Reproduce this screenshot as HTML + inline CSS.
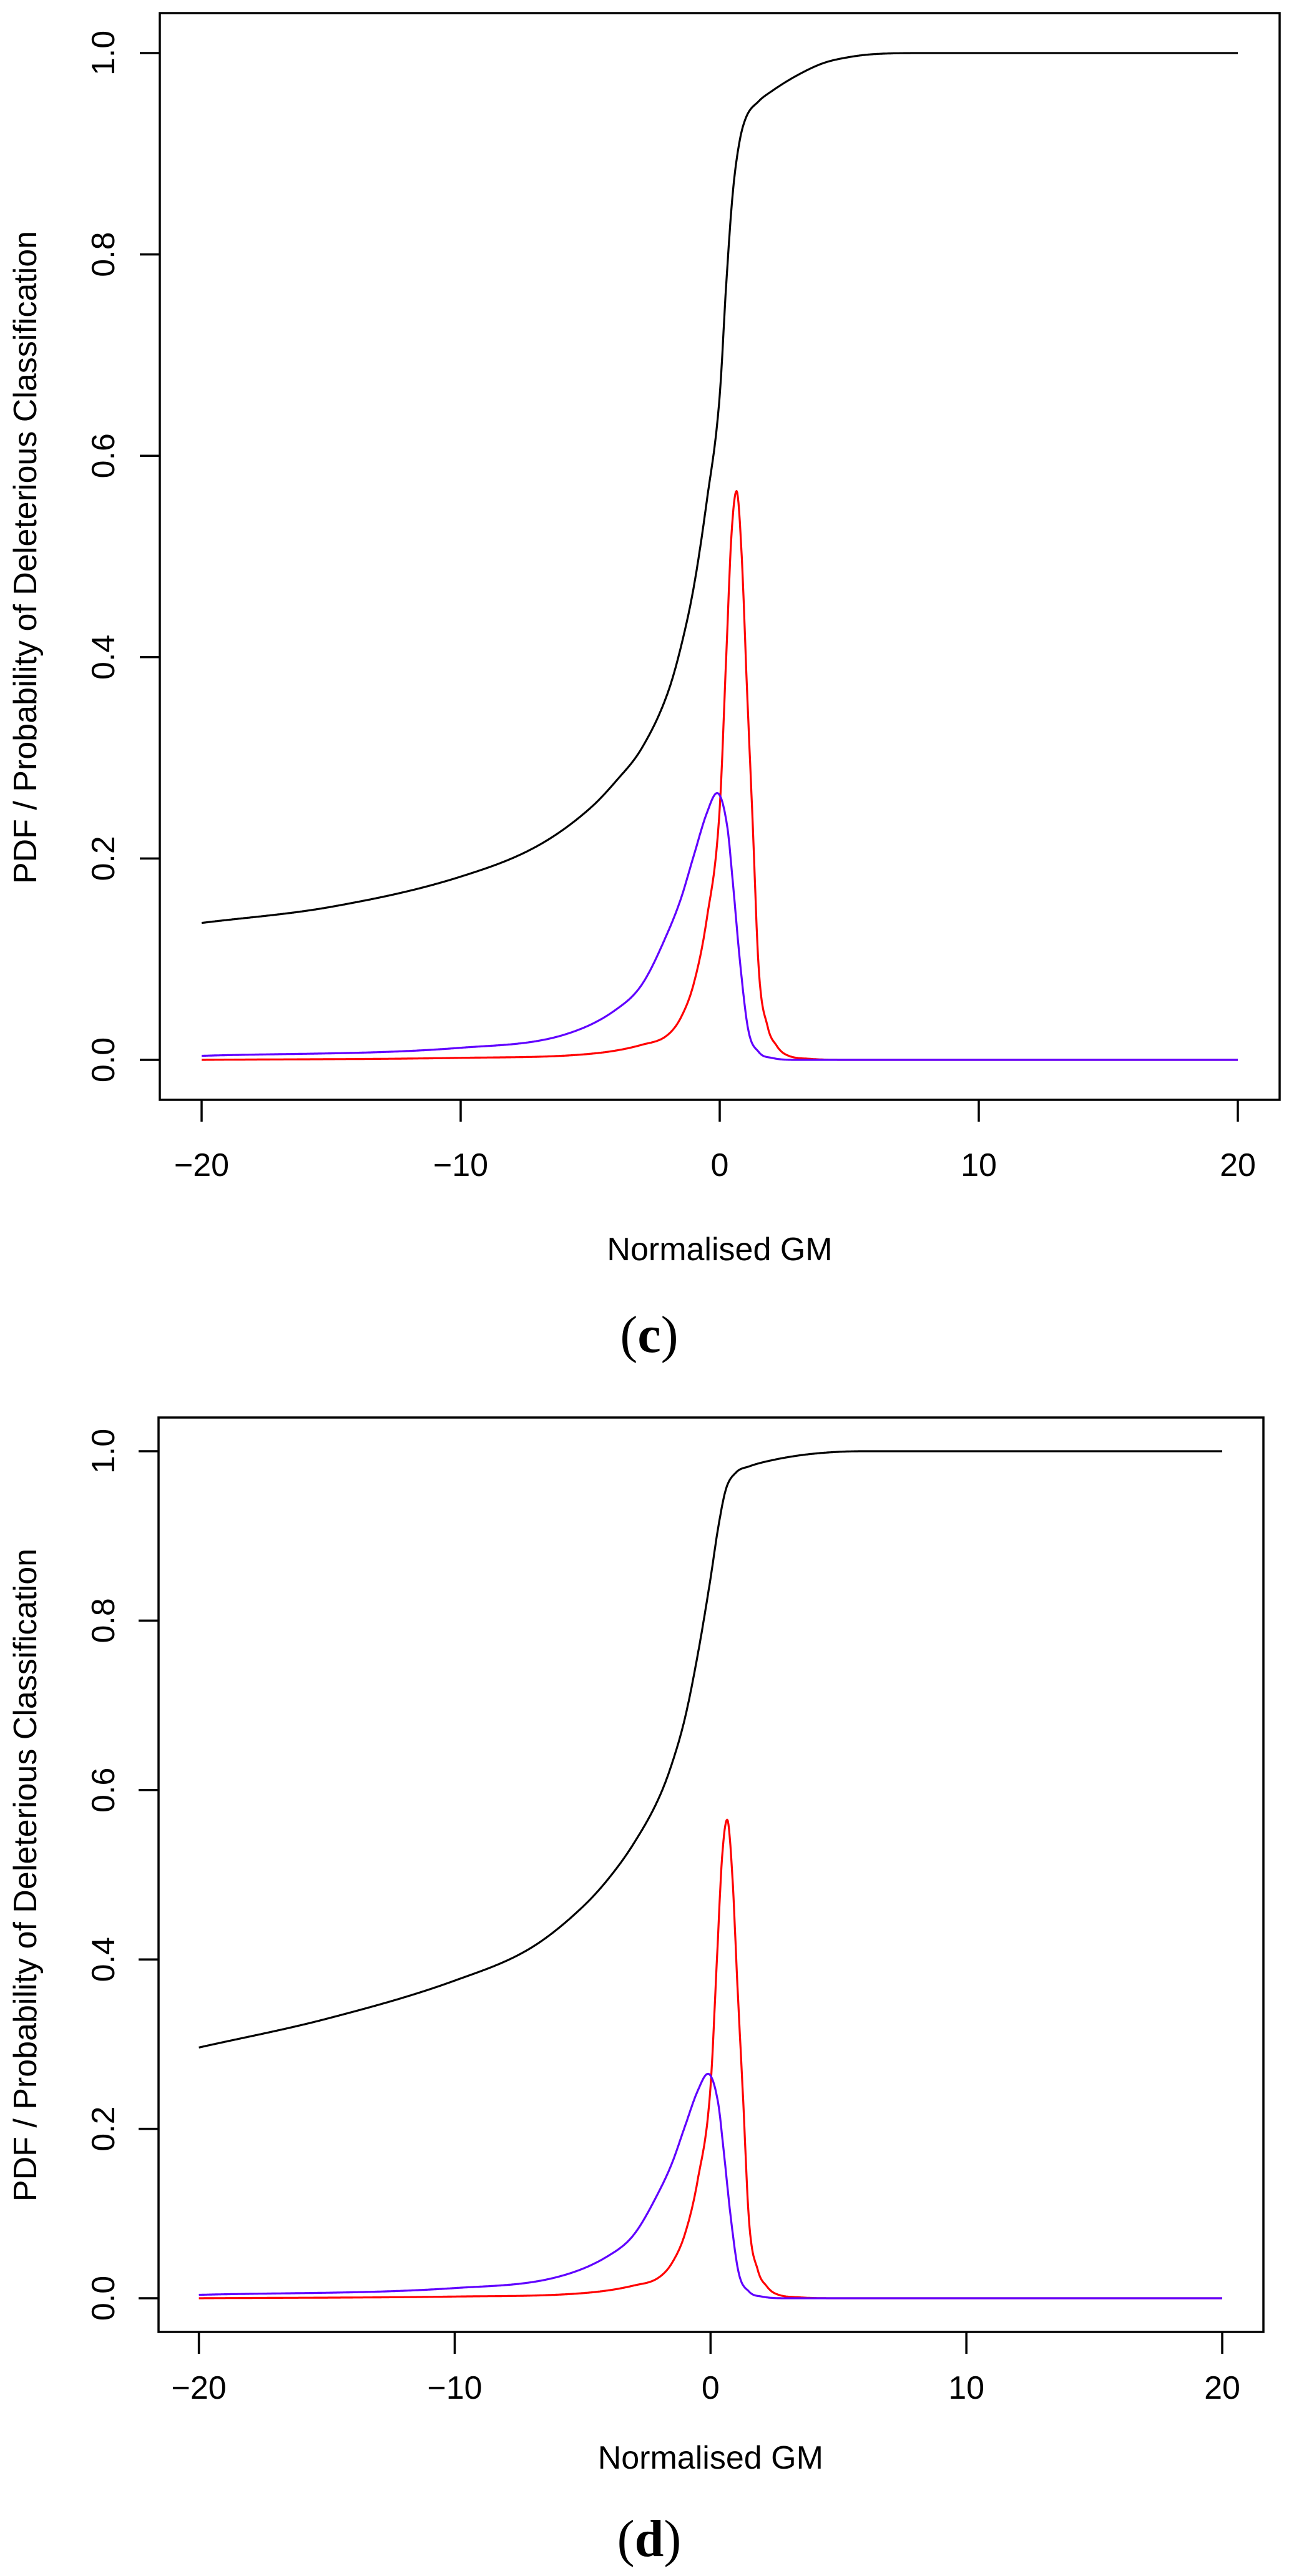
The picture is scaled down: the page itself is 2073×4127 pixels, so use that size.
<!DOCTYPE html>
<html><head><meta charset="utf-8"><style>
html,body{margin:0;padding:0;background:#fff;}
svg{display:block;}
text{fill:#000;}
</style></head><body>
<svg id="fig" width="2073" height="4127" viewBox="0 0 2073 4127" xmlns="http://www.w3.org/2000/svg"></svg>
<script>
// shared ticks
const xTicks = [-20, -10, 0, 10, 20];
const xTickLabels = ["\u221220", "\u221210", "0", "10", "20"];
const yTicks = [0, 0.2, 0.4, 0.6, 0.8, 1.0];
const yTickLabels = ["0.0", "0.2", "0.4", "0.6", "0.8", "1.0"];
// panel c
const cBlackX = [-20,-15,-10,-7,-5,-4,-3,-2,-1.5,-1,-0.5,0,0.25,0.5,0.75,1,1.5,2,3,4,5,6,8,20];
const cBlackY = [0.136,0.152,0.182,0.213,0.25,0.277,0.31,0.365,0.41,0.47,0.555,0.66,0.77,0.86,0.91,0.935,0.952,0.962,0.978,0.99,0.996,0.999,1.0,1.0];
// panel d
const dBlackX = [-20,-15,-10,-7,-5,-4,-3,-2,-1.5,-1,-0.5,0,0.3,0.6,1,1.5,2.5,4,6,20];
const dBlackY = [0.296,0.33,0.375,0.414,0.462,0.495,0.537,0.592,0.632,0.685,0.76,0.85,0.91,0.955,0.975,0.982,0.99,0.997,1.0,1.0];
// red PDF (both panels)
const redX = [-20,-10,-5,-3,-2,-1.5,-1,-0.5,0,0.25,0.45,0.65,0.85,1.05,1.27,1.5,1.85,2.2,2.5,3.5,5,20];
const redY = [0.0,0.002,0.006,0.015,0.025,0.042,0.076,0.14,0.25,0.40,0.52,0.565,0.5,0.37,0.237,0.093,0.033,0.014,0.006,0.001,0.0,0.0];
// blue PDF (both panels)
const blueX = [-20,-10,-6,-4,-3,-2,-1.5,-1,-0.5,-0.1,0.3,0.5,0.8,1.1,1.5,2,3,20];
const blueY = [0.004,0.012,0.025,0.05,0.075,0.127,0.16,0.203,0.245,0.265,0.23,0.178,0.093,0.03,0.008,0.002,0.0,0.0];

const NS = "http://www.w3.org/2000/svg";
const svg = document.getElementById("fig");
function mk(tag, attrs, parent) {
  const e = document.createElementNS(NS, tag);
  for (const k in attrs) e.setAttribute(k, attrs[k]);
  (parent || svg).appendChild(e);
  return e;
}
// monotone cubic (Fritsch-Carlson) interpolation in data space
function monotone(xs, ys) {
  const n = xs.length, d = [], m = [];
  for (let i = 0; i < n - 1; i++) d.push((ys[i+1] - ys[i]) / (xs[i+1] - xs[i]));
  m[0] = d[0]; m[n-1] = d[n-2];
  for (let i = 1; i < n - 1; i++) m[i] = (d[i-1] * d[i] <= 0) ? 0 : (d[i-1] + d[i]) / 2;
  for (let i = 0; i < n - 1; i++) {
    if (d[i] === 0) { m[i] = 0; m[i+1] = 0; continue; }
    const a = m[i] / d[i], b = m[i+1] / d[i], s = a*a + b*b;
    if (s > 9) { const t = 3 / Math.sqrt(s); m[i] = t*a*d[i]; m[i+1] = t*b*d[i]; }
  }
  return function(x) {
    let i = 0;
    while (i < n - 2 && x > xs[i+1]) i++;
    const h = xs[i+1] - xs[i], t = (x - xs[i]) / h;
    const h00 = 2*t*t*t - 3*t*t + 1, h10 = t*t*t - 2*t*t + t, h01 = -2*t*t*t + 3*t*t, h11 = t*t*t - t*t;
    return h00*ys[i] + h10*h*m[i] + h01*ys[i+1] + h11*h*m[i+1];
  };
}
function panel(cfg) {
  const g = mk("g", {});
  
  
  const sx = v => cfg.x0 + (v + 20) / 40 * (cfg.x1 - cfg.x0);
  const sy = v => cfg.y0 - v * (cfg.y0 - cfg.y1);
  const box = mk("rect", {x: cfg.bl, y: cfg.bt, width: cfg.br - cfg.bl, height: cfg.bb - cfg.bt, fill: "none", stroke: "#000", "stroke-width": 3.5}, g);
  
  
  const sans = 'font-family:"Liberation Sans",sans-serif;';
  xTicks.forEach((v, i) => {
    const t = mk("line", {x1: sx(v), x2: sx(v), y1: cfg.bb, y2: cfg.bb + 35, stroke: "#000", "stroke-width": 3.5}, g);
    
    
    const l = mk("text", {x: sx(v), y: cfg.xtl + 18, "text-anchor": "middle", style: sans + "font-size:52px"}, g);
    
    
    l.textContent = xTickLabels[i];
  });
  yTicks.forEach((v, i) => {
    const t = mk("line", {x1: cfg.bl - 32, x2: cfg.bl, y1: sy(v), y2: sy(v), stroke: "#000", "stroke-width": 3.5}, g);
    
    
    const l = mk("text", {x: 0, y: 0, "text-anchor": "middle", style: sans + "font-size:52px", transform: "translate(" + (165 + 18) + "," + sy(v) + ") rotate(-90)"}, g);
    
    
    l.textContent = yTickLabels[i];
  });
  const xl = mk("text", {x: sx(0), y: cfg.xlab + 18, "text-anchor": "middle", style: sans + "font-size:52px"}, g);
  
  
  xl.textContent = "Normalised GM";
  const yl = mk("text", {x: 0, y: 0, "text-anchor": "middle", style: sans + "font-size:52px", transform: "translate(" + (40 + 18) + "," + cfg.ylabc + ") rotate(-90)"}, g);
  
  
  yl.textContent = "PDF / Probability of Deleterious Classification";
  const series = [[cfg.bx, cfg.by, "#000", "probability-curve"], [redX, redY, "#ff0000", "red-pdf-curve"], [blueX, blueY, "#6000ff", "blue-pdf-curve"]];
  series.forEach(s => {
    const f = monotone(s[0], s[1]);
    let d = "";
    for (let k = 0; k <= 1600; k++) {
      const x = -20 + 40 * k / 1600;
      d += (k ? "L" : "M") + sx(x).toFixed(1) + "," + sy(f(x)).toFixed(1);
    }
    const p = mk("path", {d: d, fill: "none", stroke: s[2], "stroke-width": 3.2, "stroke-linejoin": "round"}, g);
    
    
  });
  const cap = mk("text", {x: 1040, y: cfg.cap + 28, "text-anchor": "middle", style: 'font-family:"Liberation Serif",serif;font-size:84px'}, g);
  
  
  cap.innerHTML = '(<tspan font-weight="bold">' + cfg.letter + '</tspan>)';
}
panel({name: "panel-c", letter: "c", bl: 256, br: 2050, bt: 21, bb: 1762, x0: 323, x1: 1983, y0: 1698, y1: 85, xtl: 1866, xlab: 2001, ylabc: 893, cap: 2138, bx: cBlackX, by: cBlackY});
panel({name: "panel-d", letter: "d", bl: 254, br: 2024, bt: 2271, bb: 3736, x0: 318.6, x1: 1958, y0: 3682, y1: 2325, xtl: 3825, xlab: 3937, ylabc: 3004, cap: 4067, bx: dBlackX, by: dBlackY});
</script>
</body></html>
